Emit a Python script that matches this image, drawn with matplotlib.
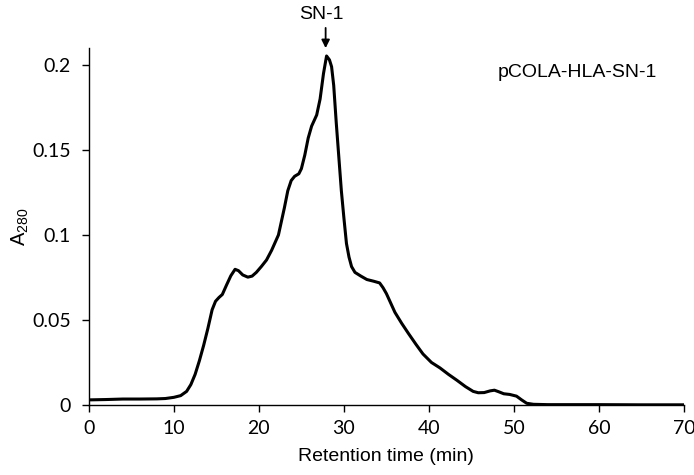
import matplotlib
matplotlib.use("Agg")
import matplotlib.pyplot as plt

time_min = [0, 2, 4, 6, 8, 9, 10, 10.8, 11.5, 12.0, 12.5, 13.0, 13.5, 14.0, 14.5, 14.9,
            15.3, 15.7, 16.2, 16.7, 17.2, 17.6, 18.1, 18.7, 19.2, 19.7, 20.3, 20.9, 21.5,
            22.3, 23.0, 23.4, 23.8, 24.2, 24.7, 25.0, 25.4, 25.8, 26.2, 26.8, 27.2, 27.6,
            27.96, 28.3, 28.55, 28.8, 29.1, 29.4, 29.7, 30.0, 30.3, 30.6, 30.9, 31.3, 32.0,
            32.7, 33.5, 34.2, 34.6, 35.0, 35.5, 36.0, 36.8, 37.6, 38.5, 39.3, 40.3, 41.3,
            42.3, 43.3, 44.3, 45.2, 45.8, 46.5, 47.2, 47.7, 48.2, 48.8, 49.5, 50.3, 50.9,
            51.5, 52.3, 54, 60, 65, 70]
a280 = [0.003, 0.0032, 0.0035, 0.0035, 0.0036, 0.0038, 0.0045, 0.0055, 0.008, 0.012,
        0.018, 0.026, 0.035, 0.045, 0.056, 0.061, 0.0632, 0.065, 0.0706, 0.076, 0.0798,
        0.079, 0.0765, 0.0752, 0.0758, 0.078, 0.0815, 0.0853, 0.091, 0.100, 0.116, 0.126,
        0.132, 0.1345, 0.136, 0.139, 0.147, 0.157, 0.164, 0.1706, 0.180, 0.195, 0.2053,
        0.203, 0.199, 0.188, 0.166, 0.146, 0.126, 0.110, 0.095, 0.087, 0.0814, 0.078,
        0.0758, 0.0738, 0.0728, 0.0718, 0.069, 0.0655, 0.060, 0.0545, 0.048, 0.042,
        0.0355, 0.030, 0.025, 0.0218, 0.018, 0.0145, 0.0108, 0.008, 0.0072, 0.0073,
        0.0083, 0.0087, 0.0078, 0.0066, 0.0062, 0.0052, 0.003, 0.001, 0.0004, 0.0002,
        0.0002, 0.0001, 0.0001]
x_ticks = [0, 10, 20, 30, 40, 50, 60, 70]
y_ticks = [0, 0.05, 0.1, 0.15, 0.2]
y_tick_labels = ["0", "0.05", "0.1", "0.15", "0.2"]
peak_label = "SN-1"
peak_time = 27.85

fig = plt.figure(figsize=(6.94, 4.75), dpi=100)
ax = fig.add_axes([0.128, 0.1474, 0.8576, 0.7516])
ax.plot(time_min, a280, color="black", lw=2.2, solid_joinstyle="round", solid_capstyle="round")
ax.set_xlim(0, 70)
ax.set_ylim(0, 0.21)
ax.set_xticks(x_ticks)
ax.set_yticks(y_ticks)
ax.set_yticklabels(y_tick_labels)
ax.set_xticklabels([str(v) for v in x_ticks])
for s in ("top", "right"):
    ax.spines[s].set_visible(False)
for s in ("left", "bottom"):
    ax.spines[s].set_linewidth(1.0)
ax.tick_params(direction="out", length=5, width=1.0, labelsize=14)
ax.tick_params(axis="y", pad=8)
ax.tick_params(axis="x", pad=6)
for lab in ax.get_xticklabels() + ax.get_yticklabels():
    lab.set_fontfamily("Lato")
ax.set_xlabel("Retention time (min)", family="Liberation Sans", fontsize=14, labelpad=8)
ax.set_ylabel(r"A$_{\mathregular{280}}$", family="Liberation Sans", fontsize=14.5, labelpad=1)
ax.text(0.82, 0.93, "pCOLA-HLA-SN-1", transform=ax.transAxes, family="Liberation Sans",
        fontsize=14, ha="center", va="center")
ax.text(peak_time - 0.5, 0.2294, peak_label, ha="center", va="center",
        family="Liberation Sans", fontsize=14, clip_on=False)
ax.annotate("", xy=(peak_time, 0.2099), xytext=(peak_time, 0.2218), xycoords="data",
            textcoords="data", annotation_clip=False,
            arrowprops=dict(arrowstyle="-|>", color="black", lw=1.3, mutation_scale=12,
                            shrinkA=0, shrinkB=0))
fig.savefig("out.png", dpi=100)
